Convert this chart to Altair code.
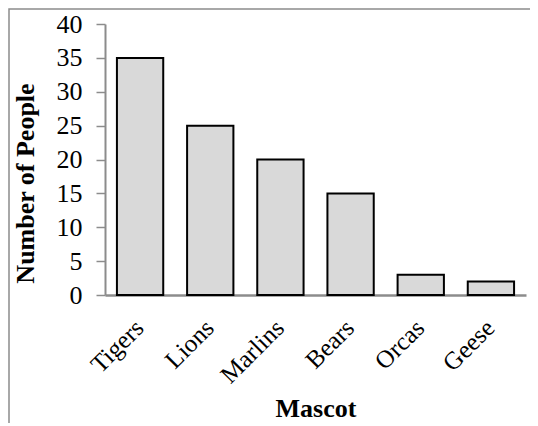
import altair as alt
import pandas as pd

mascots = ["Tigers", "Lions", "Marlins", "Bears", "Orcas", "Geese"]
people = [35, 25, 20, 15, 3, 2]
y_ticks = [0, 5, 10, 15, 20, 25, 30, 35, 40]

df = pd.DataFrame({"Mascot": mascots, "People": people})
FONT = "Liberation Serif"

bars = alt.Chart(df).mark_bar(
    fill="#d9d9d9", stroke="#000000", strokeWidth=2
).encode(
    x=alt.X("Mascot:N", sort=mascots,
            scale=alt.Scale(paddingInner=0.34, paddingOuter=0.17),
            axis=alt.Axis(title="Mascot", labelAngle=-45, labelFontSize=25,
                          labelFont=FONT, labelColor="#000", labelPadding=20,
                          labelOffset=-9,
                          ticks=False, domainColor="#8c8c8c", domainWidth=2.5,
                          titleFont=FONT, titleFontSize=26, titleFontWeight="bold",
                          titleColor="#000", titleY=121, titleBaseline="alphabetic")),
    y=alt.Y("People:Q", scale=alt.Scale(domain=[0, 40], nice=False),
            axis=alt.Axis(title="Number of People", values=y_ticks, grid=False,
                          labelFontSize=26, labelFont=FONT, labelColor="#000",
                          labelPadding=14, tickSize=9, tickColor="#8c8c8c",
                          tickWidth=1.5, domainColor="#8c8c8c", domainWidth=2,
                          titleFont=FONT, titleFontSize=26, titleFontWeight="bold",
                          titleColor="#000", titleX=-72, titleY=159,
                          titleBaseline="alphabetic")),
)

frame = alt.Chart(pd.DataFrame({"a": [0]})).mark_rect(
    fill=None, stroke="#8c8c8c", strokeWidth=1.5
).encode(
    x=alt.value(-96), x2=alt.value(470), y=alt.value(-15), y2=alt.value(440)
)

chart = alt.layer(frame, bars).properties(
    width=421, height=271,
    autosize=alt.AutoSizeParams(type="none"),
    padding={"left": 97, "top": 16, "right": 4, "bottom": 128},
).configure_view(stroke=None)

chart.save("out.html", embed_options={"renderer": "svg", "actions": False})
